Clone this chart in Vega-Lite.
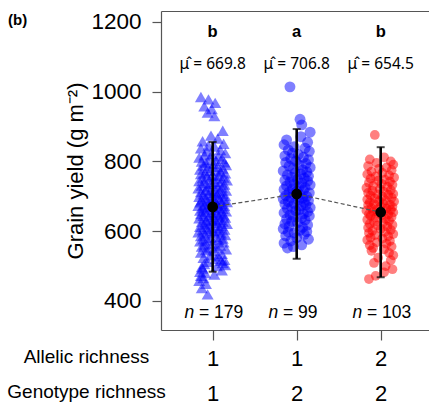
{
  "$schema": "https://vega.github.io/schema/vega-lite/v6.json",
  "width": 268,
  "height": 319,
  "autosize": {"type": "none"},
  "padding": {"left": 161, "top": 11, "right": 0, "bottom": 74},
  "background": "white",
  "config": {"font": "Liberation Sans", "view": {"stroke": null}, "axis": {"grid": false}},
  "title": {"text": "(b)", "anchor": "start", "frame": "group", "dx": -153, "dy": 29, "offset": 0, "baseline": "alphabetic", "fontSize": 15, "fontWeight": "bold", "color": "black"},
  "datasets": {
    "groups": [
      {"pos": 1, "letter": "b", "mean": 669.8, "lo": 484, "hi": 856, "n": 179},
      {"pos": 2, "letter": "a", "mean": 706.8, "lo": 521, "hi": 893, "n": 99},
      {"pos": 3, "letter": "b", "mean": 654.5, "lo": 468, "hi": 841, "n": 103}
    ],
    "plots": [
      {"group":"A1G1","pos":0.86,"yield":985},{"group":"A1G1","pos":0.95,"yield":978},{"group":"A1G1","pos":1.03,"yield":968},{"group":"A1G1","pos":0.90,"yield":958},{"group":"A1G1","pos":0.99,"yield":950},{"group":"A1G1","pos":0.94,"yield":940},{"group":"A1G1","pos":1.02,"yield":930},
      {"group":"A1G1","pos":1.12,"yield":888},{"group":"A1G1","pos":0.98,"yield":874},{"group":"A1G1","pos":1.06,"yield":866},{"group":"A1G1","pos":0.88,"yield":858},{"group":"A1G1","pos":1.13,"yield":851},{"group":"A1G1","pos":0.95,"yield":846},
      {"group":"A1G1","pos":1.02,"yield":843},{"group":"A1G1","pos":0.86,"yield":838},{"group":"A1G1","pos":1.09,"yield":833},{"group":"A1G1","pos":0.93,"yield":829},{"group":"A1G1","pos":1.15,"yield":824},{"group":"A1G1","pos":0.99,"yield":821},
      {"group":"A1G1","pos":0.90,"yield":818},{"group":"A1G1","pos":1.07,"yield":815},{"group":"A1G1","pos":0.84,"yield":811},{"group":"A1G1","pos":1.11,"yield":808},{"group":"A1G1","pos":0.96,"yield":805},{"group":"A1G1","pos":1.04,"yield":802},{"group":"A1G1","pos":0.87,"yield":800},{"group":"A1G1","pos":1.14,"yield":798},{"group":"A1G1","pos":0.92,"yield":796},
      {"group":"A1G1","pos":1.01,"yield":793},{"group":"A1G1","pos":1.16,"yield":790},{"group":"A1G1","pos":0.89,"yield":788},{"group":"A1G1","pos":1.06,"yield":785},{"group":"A1G1","pos":0.94,"yield":782},{"group":"A1G1","pos":1.12,"yield":780},{"group":"A1G1","pos":0.85,"yield":777},{"group":"A1G1","pos":1.03,"yield":775},{"group":"A1G1","pos":0.97,"yield":773},{"group":"A1G1","pos":1.09,"yield":771},
      {"group":"A1G1","pos":0.91,"yield":768},{"group":"A1G1","pos":1.15,"yield":766},{"group":"A1G1","pos":0.86,"yield":764},{"group":"A1G1","pos":1.00,"yield":761},{"group":"A1G1","pos":1.08,"yield":759},{"group":"A1G1","pos":0.93,"yield":757},{"group":"A1G1","pos":1.13,"yield":754},{"group":"A1G1","pos":0.88,"yield":752},{"group":"A1G1","pos":1.05,"yield":750},{"group":"A1G1","pos":0.96,"yield":748},{"group":"A1G1","pos":1.17,"yield":746},
      {"group":"A1G1","pos":0.84,"yield":744},{"group":"A1G1","pos":1.02,"yield":742},{"group":"A1G1","pos":1.10,"yield":740},{"group":"A1G1","pos":0.90,"yield":738},{"group":"A1G1","pos":0.98,"yield":736},{"group":"A1G1","pos":1.14,"yield":734},{"group":"A1G1","pos":0.87,"yield":731},{"group":"A1G1","pos":1.06,"yield":729},{"group":"A1G1","pos":0.94,"yield":727},{"group":"A1G1","pos":1.11,"yield":725},{"group":"A1G1","pos":0.83,"yield":723},{"group":"A1G1","pos":1.03,"yield":721},
      {"group":"A1G1","pos":0.92,"yield":719},{"group":"A1G1","pos":1.16,"yield":717},{"group":"A1G1","pos":0.97,"yield":716},{"group":"A1G1","pos":1.08,"yield":714},{"group":"A1G1","pos":0.86,"yield":712},{"group":"A1G1","pos":1.01,"yield":710},{"group":"A1G1","pos":1.12,"yield":708},{"group":"A1G1","pos":0.89,"yield":706},{"group":"A1G1","pos":1.05,"yield":705},{"group":"A1G1","pos":0.95,"yield":703},{"group":"A1G1","pos":1.15,"yield":701},{"group":"A1G1","pos":0.84,"yield":699},{"group":"A1G1","pos":1.07,"yield":697},{"group":"A1G1","pos":0.99,"yield":696},
      {"group":"A1G1","pos":0.91,"yield":694},{"group":"A1G1","pos":1.13,"yield":692},{"group":"A1G1","pos":1.02,"yield":691},{"group":"A1G1","pos":0.87,"yield":689},{"group":"A1G1","pos":1.09,"yield":688},{"group":"A1G1","pos":0.94,"yield":686},{"group":"A1G1","pos":1.17,"yield":684},{"group":"A1G1","pos":0.85,"yield":683},{"group":"A1G1","pos":1.04,"yield":681},{"group":"A1G1","pos":0.97,"yield":679},{"group":"A1G1","pos":1.11,"yield":678},{"group":"A1G1","pos":0.90,"yield":676},{"group":"A1G1","pos":1.06,"yield":675},{"group":"A1G1","pos":0.83,"yield":673},{"group":"A1G1","pos":1.14,"yield":672},{"group":"A1G1","pos":1.00,"yield":671},
      {"group":"A1G1","pos":0.93,"yield":669},{"group":"A1G1","pos":1.08,"yield":667},{"group":"A1G1","pos":0.88,"yield":666},{"group":"A1G1","pos":1.12,"yield":664},{"group":"A1G1","pos":0.96,"yield":662},{"group":"A1G1","pos":1.03,"yield":661},{"group":"A1G1","pos":0.85,"yield":659},{"group":"A1G1","pos":1.16,"yield":657},{"group":"A1G1","pos":0.91,"yield":656},{"group":"A1G1","pos":1.05,"yield":654},{"group":"A1G1","pos":0.98,"yield":652},{"group":"A1G1","pos":1.10,"yield":651},{"group":"A1G1","pos":0.86,"yield":649},{"group":"A1G1","pos":1.01,"yield":647},{"group":"A1G1","pos":1.13,"yield":646},
      {"group":"A1G1","pos":0.89,"yield":644},{"group":"A1G1","pos":1.07,"yield":642},{"group":"A1G1","pos":0.95,"yield":641},{"group":"A1G1","pos":1.15,"yield":639},{"group":"A1G1","pos":0.84,"yield":637},{"group":"A1G1","pos":1.02,"yield":635},{"group":"A1G1","pos":1.09,"yield":633},{"group":"A1G1","pos":0.92,"yield":632},{"group":"A1G1","pos":0.99,"yield":630},{"group":"A1G1","pos":1.12,"yield":628},{"group":"A1G1","pos":0.87,"yield":626},{"group":"A1G1","pos":1.05,"yield":624},{"group":"A1G1","pos":0.94,"yield":622},{"group":"A1G1","pos":1.17,"yield":621},
      {"group":"A1G1","pos":0.90,"yield":619},{"group":"A1G1","pos":1.03,"yield":617},{"group":"A1G1","pos":1.11,"yield":615},{"group":"A1G1","pos":0.85,"yield":613},{"group":"A1G1","pos":0.97,"yield":611},{"group":"A1G1","pos":1.08,"yield":609},{"group":"A1G1","pos":0.93,"yield":607},{"group":"A1G1","pos":1.14,"yield":605},{"group":"A1G1","pos":0.88,"yield":603},{"group":"A1G1","pos":1.01,"yield":601},{"group":"A1G1","pos":1.06,"yield":599},{"group":"A1G1","pos":0.83,"yield":597},{"group":"A1G1","pos":0.96,"yield":596},
      {"group":"A1G1","pos":1.10,"yield":594},{"group":"A1G1","pos":0.91,"yield":591},{"group":"A1G1","pos":1.15,"yield":589},{"group":"A1G1","pos":0.86,"yield":586},{"group":"A1G1","pos":1.04,"yield":584},{"group":"A1G1","pos":0.98,"yield":581},{"group":"A1G1","pos":1.12,"yield":579},{"group":"A1G1","pos":0.89,"yield":577},{"group":"A1G1","pos":1.07,"yield":575},{"group":"A1G1","pos":0.94,"yield":573},{"group":"A1G1","pos":0.85,"yield":571},
      {"group":"A1G1","pos":1.13,"yield":568},{"group":"A1G1","pos":1.00,"yield":565},{"group":"A1G1","pos":0.90,"yield":562},{"group":"A1G1","pos":1.09,"yield":559},{"group":"A1G1","pos":0.87,"yield":556},{"group":"A1G1","pos":1.05,"yield":553},{"group":"A1G1","pos":0.95,"yield":551},{"group":"A1G1","pos":1.16,"yield":548},{"group":"A1G1","pos":0.92,"yield":546},
      {"group":"A1G1","pos":1.02,"yield":543},{"group":"A1G1","pos":0.86,"yield":539},{"group":"A1G1","pos":1.11,"yield":535},{"group":"A1G1","pos":0.97,"yield":531},{"group":"A1G1","pos":1.07,"yield":528},{"group":"A1G1","pos":0.89,"yield":524},{"group":"A1G1","pos":1.04,"yield":521},
      {"group":"A1G1","pos":1.14,"yield":518},{"group":"A1G1","pos":1.10,"yield":515},{"group":"A1G1","pos":0.94,"yield":512},{"group":"A1G1","pos":1.12,"yield":509},{"group":"A1G1","pos":0.90,"yield":506},{"group":"A1G1","pos":1.15,"yield":503},{"group":"A1G1","pos":1.05,"yield":500},{"group":"A1G1","pos":0.87,"yield":497},
      {"group":"A1G1","pos":0.88,"yield":493},{"group":"A1G1","pos":1.11,"yield":488},{"group":"A1G1","pos":0.85,"yield":484},{"group":"A1G1","pos":0.91,"yield":480},{"group":"A1G1","pos":1.02,"yield":476},{"group":"A1G1","pos":0.86,"yield":472},
      {"group":"A1G1","pos":0.89,"yield":466},{"group":"A1G1","pos":0.84,"yield":458},{"group":"A1G1","pos":0.92,"yield":449},{"group":"A1G1","pos":0.87,"yield":437},{"group":"A1G1","pos":0.94,"yield":419},

      {"group":"A1G2","pos":1.92,"yield":1014},{"group":"A1G2","pos":2.04,"yield":921},{"group":"A1G2","pos":2.06,"yield":905},{"group":"A1G2","pos":2.16,"yield":884},{"group":"A1G2","pos":2.05,"yield":871},{"group":"A1G2","pos":1.88,"yield":862},{"group":"A1G2","pos":2.13,"yield":855},{"group":"A1G2","pos":1.85,"yield":848},{"group":"A1G2","pos":1.97,"yield":842},{"group":"A1G2","pos":2.10,"yield":838},
      {"group":"A1G2","pos":1.90,"yield":833},{"group":"A1G2","pos":2.15,"yield":829},{"group":"A1G2","pos":1.95,"yield":824},{"group":"A1G2","pos":2.02,"yield":820},{"group":"A1G2","pos":1.86,"yield":816},{"group":"A1G2","pos":2.08,"yield":812},{"group":"A1G2","pos":1.93,"yield":808},{"group":"A1G2","pos":2.14,"yield":805},{"group":"A1G2","pos":1.99,"yield":801},{"group":"A1G2","pos":1.87,"yield":797},
      {"group":"A1G2","pos":2.11,"yield":794},{"group":"A1G2","pos":2.03,"yield":790},{"group":"A1G2","pos":1.91,"yield":787},{"group":"A1G2","pos":2.16,"yield":783},{"group":"A1G2","pos":1.96,"yield":780},{"group":"A1G2","pos":2.07,"yield":776},{"group":"A1G2","pos":1.84,"yield":773},{"group":"A1G2","pos":2.12,"yield":770},{"group":"A1G2","pos":1.98,"yield":767},{"group":"A1G2","pos":2.05,"yield":764},
      {"group":"A1G2","pos":1.89,"yield":761},{"group":"A1G2","pos":2.14,"yield":758},{"group":"A1G2","pos":1.94,"yield":755},{"group":"A1G2","pos":2.09,"yield":752},{"group":"A1G2","pos":2.01,"yield":749},{"group":"A1G2","pos":1.86,"yield":746},{"group":"A1G2","pos":2.13,"yield":744},{"group":"A1G2","pos":1.92,"yield":741},{"group":"A1G2","pos":2.06,"yield":738},{"group":"A1G2","pos":1.97,"yield":736},
      {"group":"A1G2","pos":2.16,"yield":733},{"group":"A1G2","pos":1.88,"yield":730},{"group":"A1G2","pos":2.03,"yield":728},{"group":"A1G2","pos":2.10,"yield":725},{"group":"A1G2","pos":1.95,"yield":722},{"group":"A1G2","pos":1.85,"yield":720},{"group":"A1G2","pos":2.08,"yield":717},{"group":"A1G2","pos":2.00,"yield":715},{"group":"A1G2","pos":1.91,"yield":712},{"group":"A1G2","pos":2.15,"yield":710},
      {"group":"A1G2","pos":1.96,"yield":707},{"group":"A1G2","pos":2.04,"yield":705},{"group":"A1G2","pos":1.87,"yield":702},{"group":"A1G2","pos":2.12,"yield":700},{"group":"A1G2","pos":1.93,"yield":697},{"group":"A1G2","pos":2.07,"yield":695},{"group":"A1G2","pos":1.84,"yield":693},{"group":"A1G2","pos":2.02,"yield":690},{"group":"A1G2","pos":2.14,"yield":688},{"group":"A1G2","pos":1.90,"yield":685},
      {"group":"A1G2","pos":2.09,"yield":683},{"group":"A1G2","pos":1.97,"yield":680},{"group":"A1G2","pos":1.86,"yield":678},{"group":"A1G2","pos":2.11,"yield":675},{"group":"A1G2","pos":2.05,"yield":673},{"group":"A1G2","pos":1.94,"yield":670},{"group":"A1G2","pos":2.16,"yield":668},{"group":"A1G2","pos":1.89,"yield":665},{"group":"A1G2","pos":2.03,"yield":662},{"group":"A1G2","pos":1.99,"yield":659},
      {"group":"A1G2","pos":2.13,"yield":656},{"group":"A1G2","pos":1.85,"yield":653},{"group":"A1G2","pos":2.08,"yield":650},{"group":"A1G2","pos":1.92,"yield":647},{"group":"A1G2","pos":2.15,"yield":644},{"group":"A1G2","pos":1.96,"yield":641},{"group":"A1G2","pos":2.06,"yield":638},{"group":"A1G2","pos":1.88,"yield":635},{"group":"A1G2","pos":2.10,"yield":632},{"group":"A1G2","pos":1.94,"yield":628},
      {"group":"A1G2","pos":2.01,"yield":625},{"group":"A1G2","pos":1.86,"yield":621},{"group":"A1G2","pos":2.13,"yield":618},{"group":"A1G2","pos":1.91,"yield":614},{"group":"A1G2","pos":2.07,"yield":611},{"group":"A1G2","pos":1.84,"yield":607},{"group":"A1G2","pos":2.04,"yield":603},{"group":"A1G2","pos":2.12,"yield":599},{"group":"A1G2","pos":1.90,"yield":598},{"group":"A1G2","pos":1.97,"yield":595},
      {"group":"A1G2","pos":2.09,"yield":591},{"group":"A1G2","pos":1.87,"yield":587},{"group":"A1G2","pos":2.00,"yield":582},{"group":"A1G2","pos":2.14,"yield":577},{"group":"A1G2","pos":1.93,"yield":572},{"group":"A1G2","pos":1.85,"yield":566},{"group":"A1G2","pos":2.06,"yield":561},{"group":"A1G2","pos":1.96,"yield":556},{"group":"A1G2","pos":1.89,"yield":552},

      {"group":"A2G2","pos":2.93,"yield":876},{"group":"A2G2","pos":3.04,"yield":812},{"group":"A2G2","pos":2.87,"yield":806},{"group":"A2G2","pos":3.12,"yield":800},{"group":"A2G2","pos":2.95,"yield":796},{"group":"A2G2","pos":3.15,"yield":791},{"group":"A2G2","pos":2.85,"yield":787},{"group":"A2G2","pos":3.07,"yield":783},{"group":"A2G2","pos":2.98,"yield":779},{"group":"A2G2","pos":3.13,"yield":775},
      {"group":"A2G2","pos":2.89,"yield":771},{"group":"A2G2","pos":3.02,"yield":767},{"group":"A2G2","pos":2.84,"yield":763},{"group":"A2G2","pos":3.10,"yield":760},{"group":"A2G2","pos":2.94,"yield":757},{"group":"A2G2","pos":3.16,"yield":754},{"group":"A2G2","pos":2.88,"yield":751},{"group":"A2G2","pos":3.05,"yield":748},{"group":"A2G2","pos":2.97,"yield":745},{"group":"A2G2","pos":3.11,"yield":742},
      {"group":"A2G2","pos":2.86,"yield":739},{"group":"A2G2","pos":3.01,"yield":736},{"group":"A2G2","pos":3.14,"yield":733},{"group":"A2G2","pos":2.91,"yield":730},{"group":"A2G2","pos":3.08,"yield":727},{"group":"A2G2","pos":2.83,"yield":724},{"group":"A2G2","pos":2.99,"yield":721},{"group":"A2G2","pos":3.12,"yield":718},{"group":"A2G2","pos":2.90,"yield":716},{"group":"A2G2","pos":3.04,"yield":713},
      {"group":"A2G2","pos":2.85,"yield":710},{"group":"A2G2","pos":3.15,"yield":707},{"group":"A2G2","pos":2.96,"yield":706},{"group":"A2G2","pos":3.09,"yield":704},{"group":"A2G2","pos":2.88,"yield":702},{"group":"A2G2","pos":3.02,"yield":699},{"group":"A2G2","pos":3.13,"yield":696},{"group":"A2G2","pos":2.93,"yield":694},{"group":"A2G2","pos":2.84,"yield":691},{"group":"A2G2","pos":3.06,"yield":688},
      {"group":"A2G2","pos":2.98,"yield":686},{"group":"A2G2","pos":3.16,"yield":685},{"group":"A2G2","pos":2.87,"yield":683},{"group":"A2G2","pos":3.03,"yield":680},{"group":"A2G2","pos":2.92,"yield":678},{"group":"A2G2","pos":3.11,"yield":676},{"group":"A2G2","pos":2.85,"yield":675},{"group":"A2G2","pos":3.00,"yield":672},{"group":"A2G2","pos":3.14,"yield":670},{"group":"A2G2","pos":2.89,"yield":667},
      {"group":"A2G2","pos":3.07,"yield":665},{"group":"A2G2","pos":2.95,"yield":662},{"group":"A2G2","pos":3.12,"yield":661},{"group":"A2G2","pos":2.83,"yield":659},{"group":"A2G2","pos":3.04,"yield":657},{"group":"A2G2","pos":2.91,"yield":655},{"group":"A2G2","pos":3.15,"yield":654},{"group":"A2G2","pos":2.97,"yield":651},{"group":"A2G2","pos":2.86,"yield":649},{"group":"A2G2","pos":3.09,"yield":648},
      {"group":"A2G2","pos":3.01,"yield":646},{"group":"A2G2","pos":2.88,"yield":644},{"group":"A2G2","pos":3.13,"yield":641},{"group":"A2G2","pos":2.94,"yield":639},{"group":"A2G2","pos":3.06,"yield":636},{"group":"A2G2","pos":2.84,"yield":633},{"group":"A2G2","pos":3.10,"yield":630},{"group":"A2G2","pos":2.92,"yield":627},{"group":"A2G2","pos":3.03,"yield":624},{"group":"A2G2","pos":2.87,"yield":621},
      {"group":"A2G2","pos":3.14,"yield":618},{"group":"A2G2","pos":2.96,"yield":616},{"group":"A2G2","pos":3.08,"yield":613},{"group":"A2G2","pos":2.85,"yield":610},{"group":"A2G2","pos":3.00,"yield":607},{"group":"A2G2","pos":3.12,"yield":604},{"group":"A2G2","pos":2.90,"yield":601},{"group":"A2G2","pos":3.05,"yield":598},{"group":"A2G2","pos":2.86,"yield":595},{"group":"A2G2","pos":3.15,"yield":592},
      {"group":"A2G2","pos":2.93,"yield":589},{"group":"A2G2","pos":3.09,"yield":586},{"group":"A2G2","pos":2.88,"yield":582},{"group":"A2G2","pos":3.02,"yield":579},{"group":"A2G2","pos":2.84,"yield":575},{"group":"A2G2","pos":3.11,"yield":572},{"group":"A2G2","pos":2.95,"yield":568},{"group":"A2G2","pos":3.07,"yield":564},{"group":"A2G2","pos":2.87,"yield":560},{"group":"A2G2","pos":3.13,"yield":556},
      {"group":"A2G2","pos":2.91,"yield":552},{"group":"A2G2","pos":3.04,"yield":548},{"group":"A2G2","pos":2.89,"yield":544},{"group":"A2G2","pos":3.10,"yield":538},{"group":"A2G2","pos":3.15,"yield":531},{"group":"A2G2","pos":2.97,"yield":524},{"group":"A2G2","pos":3.12,"yield":517},{"group":"A2G2","pos":2.92,"yield":509},{"group":"A2G2","pos":3.06,"yield":500},{"group":"A2G2","pos":3.14,"yield":491},
      {"group":"A2G2","pos":3.04,"yield":482},{"group":"A2G2","pos":2.94,"yield":472},{"group":"A2G2","pos":2.86,"yield":463}
    ]
  },
  "resolve": {"axis": {"x": "independent"}},
  "layer": [
    {
      "data": {"name": "plots"},
      "mark": {"type": "point", "filled": true, "opacity": 0.5, "strokeWidth": 0},
      "encoding": {
        "x": {"field": "pos", "type": "quantitative",
          "scale": {"domain": [0.385, 3.575], "nice": false, "zero": false},
          "axis": {"orient": "bottom", "values": [1, 2, 3],
            "labelExpr": "datum.value == 1 ? ['1', '1'] : datum.value == 2 ? ['1', '2'] : ['2', '2']",
            "labelFontSize": 22, "labelColor": "black", "labelLineHeight": 35, "labelPadding": 8,
            "tickSize": 10, "tickColor": "#555", "tickWidth": 1.2, "domainColor": "#555", "domainWidth": 1.2,
            "title": ["Allelic richness", "Genotype richness"], "titleFontSize": 19, "titleFontWeight": "normal",
            "titleColor": "black", "titleX": -75, "titleY": 26.5, "titleAlign": "center", "titleBaseline": "middle",
            "titleLineHeight": 35, "titleAngle": 0}},
        "y": {"field": "yield", "type": "quantitative",
          "scale": {"domain": [316.8, 1231.5], "nice": false, "zero": false},
          "axis": {"values": [400, 600, 800, 1000, 1200], "format": "d", "title": "Grain yield (g m⁻²)",
            "titleFontSize": 22, "titleFontWeight": "normal", "titleColor": "black", "titlePadding": 3,
            "labelFontSize": 22.5, "labelColor": "black", "labelPadding": 11,
            "tickSize": 9, "tickColor": "#555", "tickWidth": 1.2, "domainColor": "#555", "domainWidth": 1.2}},
        "color": {"field": "group", "type": "nominal", "legend": null,
          "scale": {"domain": ["A1G1", "A1G2", "A2G2"], "range": ["#0000ff", "#0000ff", "#ff0000"]}},
        "shape": {"field": "group", "type": "nominal", "legend": null,
          "scale": {"domain": ["A1G1", "A1G2", "A2G2"], "range": ["triangle-up", "circle", "circle"]}},
        "size": {"field": "group", "type": "nominal", "legend": null,
          "scale": {"domain": ["A1G1", "A1G2", "A2G2"], "range": [144, 95, 95]}}
      }
    },
    {
      "data": {"name": "groups"},
      "mark": {"type": "line", "color": "#555", "strokeWidth": 1.2, "strokeDash": [4, 2.5]},
      "encoding": {
        "x": {"field": "pos", "type": "quantitative", "axis": null},
        "y": {"field": "mean", "type": "quantitative"}
      }
    },
    {
      "data": {"name": "groups"},
      "mark": {"type": "rule", "color": "black", "strokeWidth": 2.6},
      "encoding": {
        "x": {"field": "pos", "type": "quantitative",
          "axis": {"orient": "top", "labels": false, "ticks": false, "domain": true, "domainColor": "#555", "domainWidth": 1.2, "title": null}},
        "y": {"field": "lo", "type": "quantitative"},
        "y2": {"field": "hi"}
      }
    },
    {
      "data": {"name": "groups"},
      "mark": {"type": "tick", "color": "black", "orient": "horizontal", "size": 8, "thickness": 2},
      "encoding": {
        "x": {"field": "pos", "type": "quantitative", "axis": null},
        "y": {"field": "lo", "type": "quantitative"}
      }
    },
    {
      "data": {"name": "groups"},
      "mark": {"type": "tick", "color": "black", "orient": "horizontal", "size": 8, "thickness": 2},
      "encoding": {
        "x": {"field": "pos", "type": "quantitative", "axis": null},
        "y": {"field": "hi", "type": "quantitative"}
      }
    },
    {
      "data": {"name": "groups"},
      "mark": {"type": "point", "filled": true, "color": "black", "opacity": 1, "size": 115},
      "encoding": {
        "x": {"field": "pos", "type": "quantitative", "axis": null},
        "y": {"field": "mean", "type": "quantitative"}
      }
    },
    {
      "data": {"name": "groups"},
      "mark": {"type": "text", "fontSize": 16.5, "fontWeight": "bold", "color": "black", "baseline": "alphabetic"},
      "encoding": {
        "x": {"field": "pos", "type": "quantitative", "axis": null},
        "y": {"datum": 1157.8, "type": "quantitative"},
        "text": {"field": "letter"}
      }
    },
    {
      "data": {"name": "groups"},
      "transform": [{"calculate": "'\u03bc\u0302 = ' + format(datum.mean, '.1f')", "as": "mean_label"}],
      "mark": {"type": "text", "font": "Noto Sans", "fontSize": 15.5, "color": "black", "baseline": "alphabetic"},
      "encoding": {
        "x": {"field": "pos", "type": "quantitative", "axis": null},
        "y": {"datum": 1065.2, "type": "quantitative"},
        "text": {"field": "mean_label"}
      }
    },
    {
      "data": {"name": "groups"},
      "mark": {"type": "text", "fontSize": 17.5, "fontStyle": "italic", "color": "black", "baseline": "alphabetic", "align": "right", "dx": -18.5},
      "encoding": {
        "x": {"field": "pos", "type": "quantitative", "axis": null},
        "y": {"datum": 350.4, "type": "quantitative"},
        "text": {"value": "n"}
      }
    },
    {
      "data": {"name": "groups"},
      "transform": [{"calculate": "'= ' + datum.n", "as": "n_label"}],
      "mark": {"type": "text", "fontSize": 17.5, "color": "black", "baseline": "alphabetic", "align": "left", "dx": -13.7},
      "encoding": {
        "x": {"field": "pos", "type": "quantitative", "axis": null},
        "y": {"datum": 350.4, "type": "quantitative"},
        "text": {"field": "n_label"}
      }
    }
  ]
}
